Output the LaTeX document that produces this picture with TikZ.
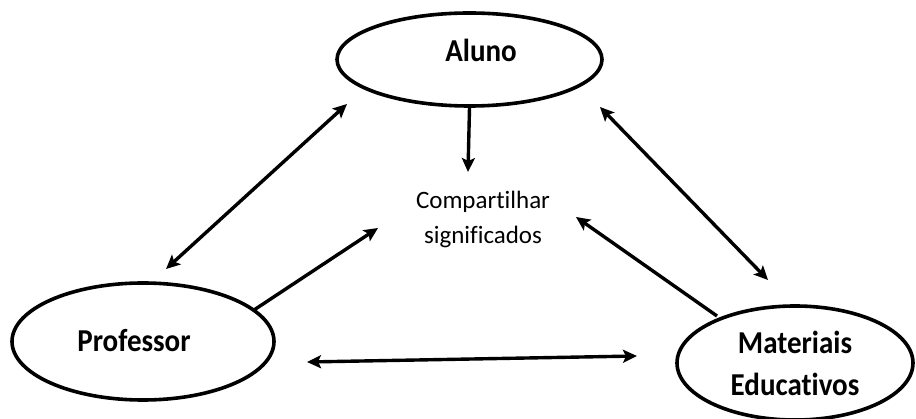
\documentclass[tikz,border=0pt]{standalone}
\usepackage{fontspec}
\setmainfont{Carlito}[Ligatures=NoCommon]
\usetikzlibrary{shapes.geometric,arrows.meta}

\newcommand{\tallword}[1]{\scalebox{1}[1.1]{#1}}

\tikzset{
  actor/.style={ellipse, draw=black, line width=3.6pt, inner sep=0pt,
                font=\bfseries\fontsize{29}{42}\selectfont, align=center},
  actorname/.style={inner sep=0pt, anchor=base, font=\bfseries\fontsize{29}{42}\selectfont},
  link/.style={line width=3.4pt, draw=black},
  tip/.style={-{Stealth[length=14pt,width=13pt,inset=3pt]}},
  tips/.style={{Stealth[length=14pt,width=13pt,inset=3pt]}-{Stealth[length=14pt,width=13pt,inset=3pt]}},
}

\begin{document}
\begin{tikzpicture}[x=1pt,y=-1pt]
  \useasboundingbox (0,0) rectangle (916,419);
  \fill[white] (0,0) rectangle (916,419);

  % the three parties
  \node[actor, minimum width=265pt, minimum height=93pt]  (aluno) at (469.5,59.5) {};
  \node[actorname] (alunoname) at (481,62) {\tallword{Aluno}};
  \node[actor, minimum width=262pt, minimum height=117pt] (prof)  at (143,341.5) {};
  \node[actorname] (profname) at (134,352) {\tallword{Professor}};
  \node[actor, minimum width=236pt, minimum height=114pt] (mat)   at (795,363)
       {\tallword{Materiais}\\\tallword{Educativos}};

  % shared meaning in the middle
  \node[font=\fontsize{25}{35}\selectfont, align=center, inner sep=0pt] (comp) at (483,219)
       {Compartilhar\\significados};

  % end points of the connectors
  \coordinate (pa1) at (166,269);  \coordinate (pa2) at (347,104);
  \coordinate (am1) at (600,107);  \coordinate (am2) at (768,280);
  \coordinate (pc1) at (254,310);  \coordinate (pc2) at (378,228);
  \coordinate (mc1) at (717,316);  \coordinate (mc2) at (576,217);
  \coordinate (ac2) at (468,172);
  \coordinate (pm1) at (307,362);  \coordinate (pm2) at (637,356);

  % connectors
  \draw[link, tips] (pa1) -- (pa2);
  \draw[link, tips] (am1) -- (am2);
  \draw[link, tip]  (pc1) -- (pc2);
  \draw[link, tip]  (mc1) -- (mc2);
  \draw[link, tip]  (aluno.south) -- (ac2);
  \draw[link, tips] (pm1) -- (pm2);
\end{tikzpicture}
\end{document}
